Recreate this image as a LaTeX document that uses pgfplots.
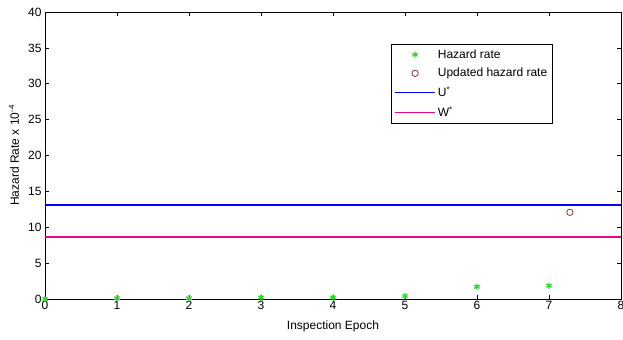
\documentclass[border=0pt]{standalone}
\usepackage{pgfplots}
\pgfplotsset{compat=1.18}
\usepackage{fontspec}
\setmainfont{Liberation Sans}
\definecolor{hgreen}{rgb}{0.16,0.86,0.16}
\definecolor{updred}{rgb}{0.55,0.12,0.12}
\definecolor{ublue}{rgb}{0,0,1}
\definecolor{wmag}{rgb}{0.82,0.08,0.78}
\begin{document}
\begin{tikzpicture}
\begin{axis}[
  name=ax,
  scale only axis,
  width=576pt, height=287pt,
  xmin=0, xmax=8, ymin=0, ymax=40,
  xtick={0,1,...,8}, ytick={0,5,...,40},
  tick align=inside, tick pos=both,
  major tick length=4pt,
  /pgf/number format/assume math mode=true,
  tick label style={font=\fontsize{12}{14}\selectfont},
  label style={font=\fontsize{12}{14}\selectfont},
  xlabel={Inspection Epoch},
  ylabel={Hazard Rate x 10\textsuperscript{-4}},
  xlabel style={at={(0.5,-0.094)}, anchor=center},
  ylabel style={at={(-0.054,0.5)}, anchor=center, rotate=0},
  xticklabel style={yshift=1pt},
  axis line style={black, line width=0.8pt},
  every tick/.style={black, line width=0.6pt},
  legend style={at={(0.6007,0.888)}, anchor=north west, font=\fontsize{12}{14}\selectfont,
    draw=black, line width=0.8pt, inner xsep=3pt, inner ysep=3pt, row sep=4.5pt, cells={anchor=west}},
  legend image code/.code={\draw[mark repeat=2,mark phase=2,#1] plot coordinates {(0cm,0cm) (0.7cm,0cm) (1.4cm,0cm)};},
  legend cell align=left,
  clip=false,
]
\addlegendimage{only marks, mark=asterisk, mark size=3.2pt, color=hgreen, line width=1.2pt}
\addlegendentry{Hazard rate}
\addlegendimage{only marks, mark=o, mark size=3.2pt, color=updred, line width=0.7pt}
\addlegendentry{Updated hazard rate~}
\addlegendimage{draw=ublue, line width=1.6pt}
\addlegendentry{U\textsuperscript{*}}
\addlegendimage{draw=magenta, line width=1.6pt}
\addlegendentry{W\textsuperscript{*}}
\addplot[draw=ublue, line width=1.6pt, forget plot] coordinates {(0,13.1) (8,13.1)};
\addplot[draw=magenta, line width=1.6pt, forget plot] coordinates {(0,8.6) (8,8.6)};
\addplot[only marks, mark=asterisk, mark size=3.2pt, color=hgreen, line width=1.2pt, forget plot]
  coordinates {(0,0) (1,0.1) (2,0.1) (3,0.2) (4,0.2) (5,0.42) (6,1.71) (7,1.85)};
\addplot[only marks, mark=o, mark size=3.2pt, color=updred, line width=0.7pt, forget plot]
  coordinates {(7.29,12.08)};
\end{axis}
\pgfresetboundingbox
\path ([xshift=-45pt,yshift=-40pt]ax.south west) ([xshift=2pt,yshift=12pt]ax.north east);
\end{tikzpicture}
\end{document}
